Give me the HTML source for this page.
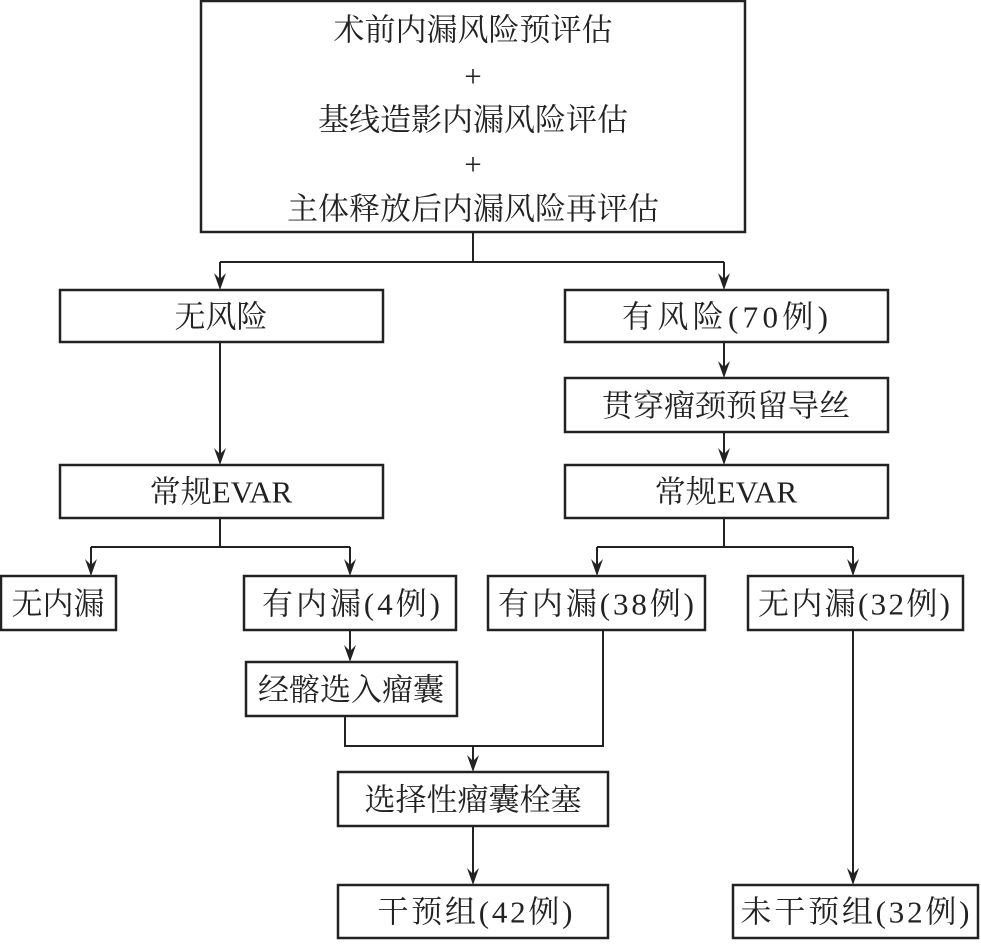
<!DOCTYPE html>
<html><head><meta charset="utf-8"><style>
body{margin:0;background:#fff;}
svg text{font-family:"Liberation Serif","Noto Serif CJK SC",serif;font-size:31px;fill:#222;text-anchor:middle;dominant-baseline:central;}
</style></head><body>
<svg width="981" height="942" viewBox="0 0 981 942" xmlns="http://www.w3.org/2000/svg">
<defs><path id="h" d="M-6,-17 L0,-11 L6,-17 L0,0 Z" fill="#222"/></defs>
<g fill="none" stroke="#222" stroke-width="2.5">
<rect x="201" y="1" width="544" height="231"/>
<rect x="60" y="290" width="323" height="52"/>
<rect x="565" y="290" width="323" height="52"/>
<rect x="565" y="378" width="323" height="54"/>
<rect x="60" y="465" width="323" height="53"/>
<rect x="565" y="465" width="323" height="53"/>
<rect x="1" y="576" width="115" height="54"/>
<rect x="244" y="576" width="212" height="54"/>
<rect x="488" y="576" width="217" height="54"/>
<rect x="748" y="576" width="215" height="54"/>
<rect x="246" y="662" width="211" height="54"/>
<rect x="338" y="772" width="270" height="54"/>
<rect x="338" y="885" width="270" height="53"/>
<rect x="733" y="885" width="245" height="53"/>
</g>
<g fill="none" stroke="#222" stroke-width="2">
<path d="M473 232V262M220 262H724M220 262V285M724 262V285"/>
<path d="M220 342V460M724 342V373M724 432V460"/>
<path d="M220 518V547M91 547H350M724 518V547M597 547H853"/>
<path d="M91 547V571M350 547V571M597 547V571M853 547V571"/>
<path d="M350 630V657"/>
<path d="M345 716V746H603V630"/>
<path d="M473 746V767M473 826V880M853 630V880"/>
</g>
<use href="#h" x="220" y="290"/><use href="#h" x="724" y="290"/>
<use href="#h" x="220" y="465"/><use href="#h" x="724" y="378"/><use href="#h" x="724" y="465"/>
<use href="#h" x="91" y="576"/><use href="#h" x="350" y="576"/><use href="#h" x="597" y="576"/><use href="#h" x="853" y="576"/>
<use href="#h" x="350" y="662"/><use href="#h" x="473" y="772"/><use href="#h" x="473" y="885"/><use href="#h" x="853" y="885"/>
<text x="473" y="30">术前内漏风险预评估</text>
<text x="473" y="76">+</text>
<text x="473" y="120">基线造影内漏风险评估</text>
<text x="473" y="164">+</text>
<text x="473" y="209">主体释放后内漏风险再评估</text>
<text x="221" y="317">无风险</text>
<text x="725" y="317" textLength="206" lengthAdjust="spacing">有风险(70例)</text>
<text x="726" y="406">贯穿瘤颈预留导丝</text>
<text x="221" y="492">常规EVAR</text>
<text x="726" y="492">常规EVAR</text>
<text x="58" y="604">无内漏</text>
<text x="351" y="604" textLength="178" lengthAdjust="spacing">有内漏(4例)</text>
<text x="596" y="604" textLength="196" lengthAdjust="spacing">有内漏(38例)</text>
<text x="854" y="604" textLength="192" lengthAdjust="spacing">无内漏(32例)</text>
<text x="351" y="690">经髂选入瘤囊</text>
<text x="473" y="800">选择性瘤囊栓塞</text>
<text x="475" y="912" textLength="195" lengthAdjust="spacing">干预组(42例)</text>
<text x="855" y="912" textLength="229" lengthAdjust="spacing">未干预组(32例)</text>
</svg>
</body></html>
